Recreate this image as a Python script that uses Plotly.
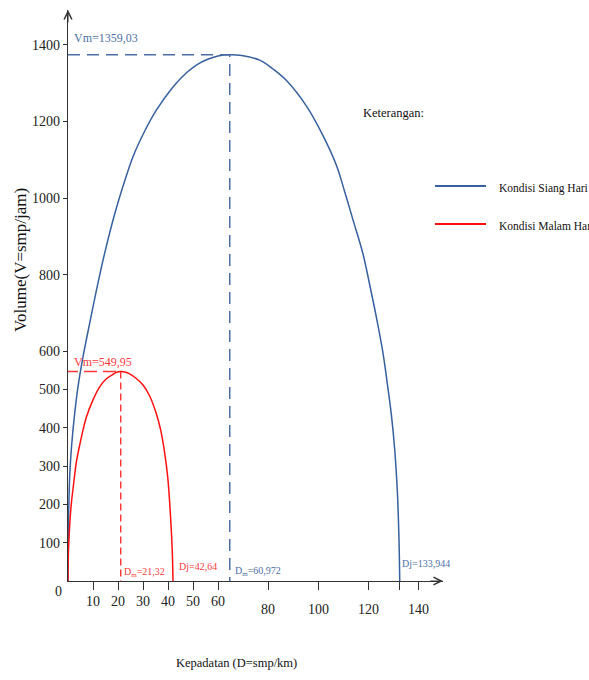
import plotly.graph_objects as go

# ---- data ----
blue_D = [0, 0.1, 0.3, 0.7, 1.4, 2.7, 4.0, 6.0, 8.7, 11.4, 14.7, 18.7, 22.7, 26.0, 30.7, 35.4,
          42.0, 47.4, 51.5, 55.4, 60.0, 64.7, 69.5, 76.7, 82.0, 87.4, 95.4, 102.0, 107.4, 110.7,
          114.0, 118.0, 120.7, 123.4, 126.0, 127.9, 129.4, 130.7, 131.8, 132.4, 132.7]
blue_V = [0, 81, 185, 277, 350, 439, 507, 585, 674, 760, 857, 959, 1045, 1108, 1175, 1230,
          1290, 1327, 1348, 1361, 1371, 1374, 1372, 1360, 1337, 1307, 1240, 1163, 1085, 1016,
          943, 854, 773, 687, 595, 507, 431, 342, 225, 107, 0]

red_D = [0, 0.08, 0.36, 0.8, 1.36, 2.2, 3.36, 4.68, 6.0, 7.36, 10.0, 12.68, 15.36, 17.88, 19.5,
         21.08, 22.7, 24.28, 27.08, 30.0, 32.68, 35.36, 37.08, 38.68, 39.88, 40.68, 41.32, 41.76, 42.0]
red_V = [0, 55, 107, 159, 204, 251, 311, 355, 394, 428, 473, 507, 528, 539, 545,
         547, 546, 542, 530, 512, 483, 436, 394, 334, 272, 204, 133, 68, 0]

blue_peak = (64.7, 1374)
red_peak = (21.1, 547)

blue_name = "Kondisi Siang Hari"
red_name = "Kondisi Malam Hari"

y_tick_vals = [100, 200, 300, 400, 500, 600, 800, 1000, 1200, 1400]
x_tick_near = [10, 20, 30, 40, 50, 60]
x_tick_far = [80, 100, 120, 140]
x_tick_extra = [132.4]

blue_labels = ["Vm=1359,03", "D<sub>m</sub>=60,972", "Dj=133,944"]
red_labels = ["Vm=549,95", "D<sub>m</sub>=21,32", "Dj=42,64"]

BLUE = "#36609f"
BLUE_TXT = "#4d6fa6"
RED = "#ff1010"
RED_TXT = "#ff3a3a"
AX = "#333333"
FONT = "Liberation Serif"

fig = go.Figure()

fig.add_trace(go.Scatter(x=blue_D, y=blue_V, mode="lines", name=blue_name,
                         line=dict(color=BLUE, width=1.5, shape="spline", smoothing=1.0),
                         showlegend=False, hoverinfo="skip"))
fig.add_trace(go.Scatter(x=red_D, y=red_V, mode="lines", name=red_name,
                         line=dict(color=RED, width=1.5, shape="spline", smoothing=1.0),
                         showlegend=False, hoverinfo="skip"))

# dashed guide lines
fig.add_trace(go.Scatter(x=[0, blue_peak[0], blue_peak[0]], y=[blue_peak[1], blue_peak[1], 0],
                         mode="lines", line=dict(color=BLUE_TXT, width=1.5, dash="12px,7px"),
                         showlegend=False, hoverinfo="skip"))
fig.add_trace(go.Scatter(x=[-1.2, red_peak[0]], y=[red_peak[1], red_peak[1]],
                         mode="lines", line=dict(color=RED_TXT, width=1.3, dash="13px,6px"),
                         showlegend=False, hoverinfo="skip", cliponaxis=False))
fig.add_trace(go.Scatter(x=[red_peak[0], red_peak[0]], y=[red_peak[1], 0],
                         mode="lines", line=dict(color=RED, width=1.2, dash="7px,4px"),
                         showlegend=False, hoverinfo="skip"))

ann = []
# axis arrowheads
ann.append(dict(x=0, y=1491, xref="x", yref="y", ax=0, ay=14,
                text="", showarrow=True, arrowhead=5, arrowsize=1.4, arrowwidth=1.1, arrowcolor=AX))
ann.append(dict(x=150, y=0, xref="x", yref="y", ax=-14, ay=0,
                text="", showarrow=True, arrowhead=5, arrowsize=1.4, arrowwidth=1.1, arrowcolor=AX))

TICKFONT = dict(family=FONT, size=14, color="#222")
# x tick labels
for v in x_tick_near:
    ann.append(dict(x=v, y=0, xref="x", yref="y", text=str(v), showarrow=False,
                    xanchor="center", yanchor="middle", yshift=-20, font=TICKFONT))
for v in x_tick_far:
    ann.append(dict(x=v, y=0, xref="x", yref="y", text=str(v), showarrow=False,
                    xanchor="center", yanchor="middle", yshift=-28, font=TICKFONT))
ann.append(dict(x=0, y=0, xref="x", yref="y", text="0", showarrow=False,
                xanchor="center", yanchor="middle", xshift=-10, yshift=-10, font=TICKFONT))

# value labels
def lab(txt, x, y, color, size=12):
    ann.append(dict(x=x, y=y, xref="x", yref="y", text=txt, showarrow=False, xanchor="left",
                    yanchor="middle", font=dict(family=FONT, size=size, color=color)))

lab(blue_labels[0], 1.6, 1418, BLUE_TXT, 12)
lab(blue_labels[1], 65.8, 26, BLUE_TXT, 10)
lab(blue_labels[2], 132.6, 47, BLUE_TXT, 10)
lab(red_labels[0], 1.6, 572, RED_TXT, 12)
lab(red_labels[1], 21.6, 23, RED_TXT, 10)
lab(red_labels[2], 43.6, 39, RED_TXT, 10)

def pann(txt, x, y, size, xanchor="center", angle=0):
    ann.append(dict(x=x, y=y, xref="paper", yref="paper", text=txt, showarrow=False,
                    xanchor=xanchor, yanchor="middle", textangle=angle,
                    font=dict(family=FONT, size=size, color="#111")))

# axis titles
pann("Volume(V=smp/jam)", -0.128, 0.562, 17, angle=-90)
pann("Kepadatan (D=smp/km)", 0.448, -0.1436, 12.5)

# legend (manual)
pann("Keterangan:", 0.867, 0.8196, 12.5)
pann(blue_name, 1.144, 0.688, 11.5, xanchor="left")
pann(red_name, 1.144, 0.6217, 11.5, xanchor="left")

shapes = [
    dict(type="line", xref="paper", yref="paper", x0=0.9787, x1=1.1147, y0=0.6918, y1=0.6918,
         line=dict(color=BLUE, width=2)),
    dict(type="line", xref="paper", yref="paper", x0=0.9787, x1=1.1147, y0=0.6252, y1=0.6252,
         line=dict(color=RED, width=2)),
]

fig.update_layout(
    width=589, height=680,
    margin=dict(l=68, r=146, t=10, b=99),
    paper_bgcolor="white", plot_bgcolor="white",
    annotations=ann, shapes=shapes,
    showlegend=False, hovermode=False,
    xaxis=dict(range=[0, 150], showgrid=False, zeroline=False, showline=True, linecolor=AX,
               linewidth=1.2, ticks="outside", ticklen=8, tickcolor=AX, tickwidth=1.2,
               tickvals=x_tick_near + x_tick_far + x_tick_extra, showticklabels=False),
    yaxis=dict(range=[0, 1491], showgrid=False, zeroline=False, showline=True, linecolor=AX,
               linewidth=1.2, ticks="outside", ticklen=4, tickcolor=AX, tickwidth=1.2,
               tickvals=y_tick_vals, ticktext=[str(v) for v in y_tick_vals],
               ticklabelstandoff=0, tickfont=TICKFONT),
)

fig.write_html("out.html", config={"displayModeBar": False},
               post_script="document.body.style.margin='0px';"
                           "document.documentElement.style.overflow='hidden';")
